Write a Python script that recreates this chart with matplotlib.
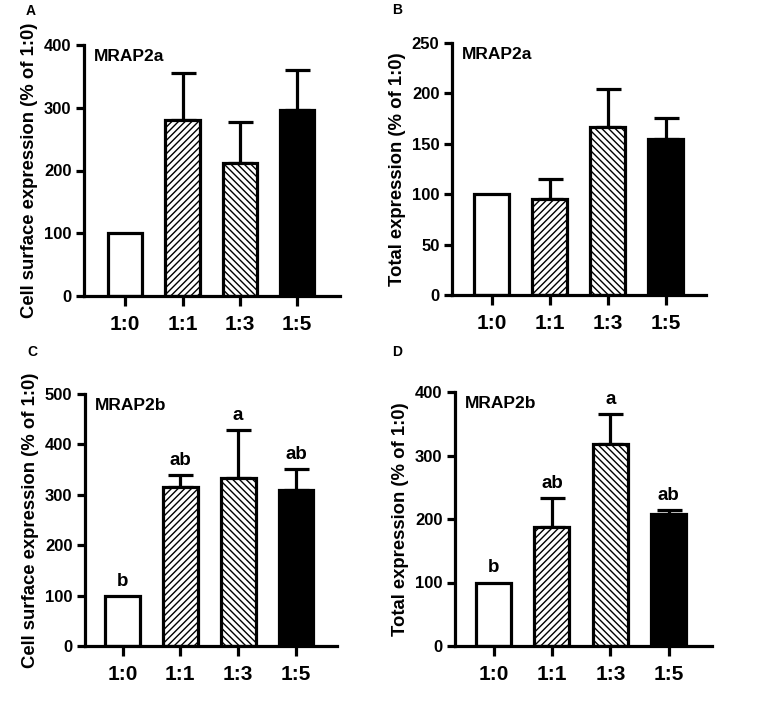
import matplotlib
matplotlib.use("Agg")
import matplotlib.pyplot as plt

W, H = 769, 703
DPI = 100

plt.rcParams['font.family'] = ["Liberation Sans", "DejaVu Sans"]
plt.rcParams['font.weight'] = 'bold'
plt.rcParams['hatch.linewidth'] = 1.0

categories = ["1:0", "1:1", "1:3", "1:5"]

# Panel A: MRAP2a cell surface
a_mean = [100, 280, 212, 297]
a_err = [0, 75, 65, 63]
# Panel B: MRAP2a total
b_mean = [100, 95, 167, 155]
b_err = [0, 20, 37, 21]
# Panel C: MRAP2b cell surface
c_mean = [100, 315, 334, 309]
c_err = [0, 24, 95, 42]
c_letters = ["b", "ab", "a", "ab"]
# Panel D: MRAP2b total
d_mean = [100, 187, 318, 208]
d_err = [0, 46, 47, 6]
d_letters = ["b", "ab", "a", "ab"]

fill_colors = ["white", "white", "white", "black"]
hatches = [None, "/////", "\\\\\\\\\\", None]

fig = plt.figure(figsize=(W / DPI, H / DPI), dpi=DPI)


def px_axes(left, right, top, bottom):
    return fig.add_axes([left / W, 1 - bottom / H, (right - left) / W, (bottom - top) / H])


LW = 2.3

def draw(ax, mean, err, ymax, ystep, ylabel, title, xlim, letters=None, letter_gap=0):
    x = list(range(len(categories)))
    for i in x:
        ax.bar(i, mean[i], width=0.6, color=fill_colors[i], edgecolor="black",
               linewidth=LW, hatch=hatches[i], zorder=2)
        if err[i] > 0:
            ax.errorbar(i, mean[i], yerr=[[0], [err[i]]], fmt="none", ecolor="black",
                        elinewidth=LW, capsize=9, capthick=LW, zorder=1)
    ax.set_xlim(*xlim)
    ax.set_ylim(0, ymax)
    ax.set_yticks(range(0, ymax + 1, ystep))
    ax.set_xticks(x)
    ax.set_xticklabels(categories, fontsize=15, fontweight="bold")
    for lab in ax.get_yticklabels():
        lab.set_fontsize(12)
        lab.set_fontweight("bold")
    ax.spines["top"].set_visible(False)
    ax.spines["right"].set_visible(False)
    ax.spines["left"].set_linewidth(LW)
    ax.spines["bottom"].set_linewidth(LW)
    ax.tick_params(axis="y", length=6, width=LW, pad=3)
    ax.tick_params(axis="x", length=7, width=LW, pad=7)
    ax.set_ylabel(ylabel, fontsize=13.3, fontweight="bold", labelpad=4)
    ax.text(0.04, 0.985, title, transform=ax.transAxes, fontsize=12.5, fontweight="bold",
            ha="left", va="top")
    if letters:
        for i in x:
            ax.text(i, mean[i] + err[i] + letter_gap, letters[i], ha="center", va="bottom",
                    fontsize=13.5, fontweight="bold")


axA = px_axes(84, 340, 45, 296)
draw(axA, a_mean, a_err, 400, 100, "Cell surface expression (% of 1:0)", "MRAP2a", (-0.72, 3.75))
axB = px_axes(452, 706, 43, 295)
draw(axB, b_mean, b_err, 250, 50, "Total expression (% of 1:0)", "MRAP2a", (-0.68, 3.69))
axC = px_axes(85, 337, 394, 646)
draw(axC, c_mean, c_err, 500, 100, "Cell surface expression (% of 1:0)", "MRAP2b", (-0.65, 3.71),
     c_letters, 12)
axD = px_axes(455, 712, 392, 646)
draw(axD, d_mean, d_err, 400, 100, "Total expression (% of 1:0)", "MRAP2b", (-0.66, 3.74),
     d_letters, 10)

for lbl, (px, py) in zip("ABCD", [(31, 11), (397, 10), (32, 352), (397, 352)]):
    fig.text(px / W, 1 - py / H, lbl, fontsize=10, fontweight="bold",
             ha="center", va="center")

fig.savefig("out.png", dpi=DPI)
